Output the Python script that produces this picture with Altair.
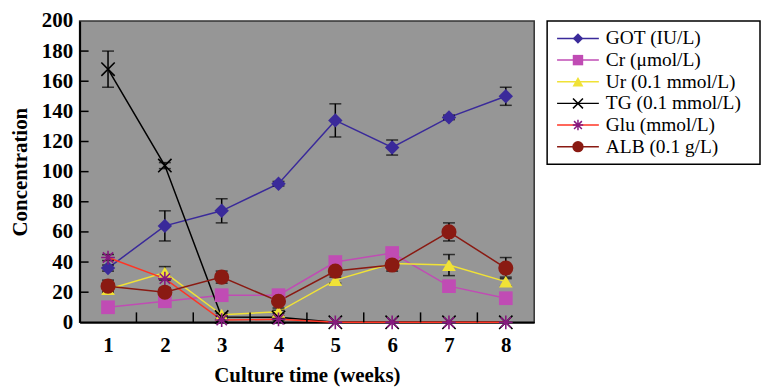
import altair as alt
import pandas as pd

weeks = [1, 2, 3, 4, 5, 6, 7, 8]
series_names = ["GOT (IU/L)", "Cr (μmol/L)", "Ur (0.1 mmol/L)",
                "TG (0.1 mmol/L)", "Glu (mmol/L)", "ALB (0.1 g/L)"]

GOT = [36, 64, 74, 92, 134, 116, 136, 150]
GOT_err = [2, 10, 8, 1.5, 11, 5, 1.5, 6]
Cr = [10, 14, 18, 18, 40, 46, 24, 16]
Cr_err = [1, 1, 1, 1, 1, 1, 1, 1]
Ur = [22, 33, 5, 7, 28, 39, 38, 27]
Ur_err = [2, 4, 1, 1, 2, 2, 7, 3]
TG = [168, 104, 3.5, 3.3, 0, 0, 0, 0]
TG_err = [12, 2, 1, 1, 0, 0, 0, 0]
Glu = [43, 29, 1.5, 2, 0, 0, 0, 0]
Glu_err = [2, 1, 0.5, 0.5, 0, 0, 0, 0]
ALB = [24, 20, 30, 14, 34, 38, 60, 36]
ALB_err = [4, 3, 4, 4.5, 2, 4, 6, 7]

y_labels = [0, 20, 40, 60, 80, 100, 120, 140, 160, 180, 200]
x_inner_ticks = [1.5, 2.5, 3.5, 4.5, 5.5, 6.5, 7.5]
y_ticks = [20, 40, 60, 80, 100, 120, 140, 160, 180]

values = [GOT, Cr, Ur, TG, Glu, ALB]
errors = [GOT_err, Cr_err, Ur_err, TG_err, Glu_err, ALB_err]

line_colors = ["#3a2a9a", "#c04cb4", "#f0e236", "#000000", "#ff3524", "#8a1a12"]
marker_colors = ["#3a2a9a", "#c04cb4", "#f0e236", "#000000", "#86197f", "#8a1a12"]
CROSS = "M-1,-1L1,1M-1,1L1,-1"
ASTER = "M-1,0L1,0M0,-1L0,1M-0.75,-0.75L0.75,0.75M-0.75,0.75L0.75,-0.75"
shapes = ["diamond", "square", "triangle-up", CROSS, ASTER, "circle"]
filled = [True, True, True, False, False, True]
sizes = [210, 190, 190, 180, 190, 230]
legend_sizes = [110, 110, 120, 100, 110, 130]

rows = []
for name, vals, errs in zip(series_names, values, errors):
    for w, v, e in zip(weeks, vals, errs):
        rows.append(dict(series=name, week=w, value=v, lo=max(v - e, 0), hi=v + e, err=e))
df = pd.DataFrame(rows)

W, H = 457, 303
FONT = "Liberation Serif"
yscale = alt.Scale(domain=[0, 200], nice=False)
xscale = alt.Scale(domain=[0.5, 8.5], nice=False, zero=False)

xaxis = alt.Axis(values=weeks, title="Culture time (weeks)", grid=False,
                 ticks=False, labelFontSize=21, labelFontWeight="bold",
                 titleFontSize=21, titleFontWeight="bold",
                 labelPadding=12, titlePadding=9, labelOverlap=False,
                 domainColor="#000000", domainWidth=2,
                 labelColor="#000000", titleColor="#000000",
                 labelFont=FONT, titleFont=FONT, format="d")
yaxis = alt.Axis(values=y_labels, labelOverlap=False,
                 title="Concentration", grid=False, ticks=False,
                 labelFontSize=21, labelFontWeight="bold",
                 titleFontSize=21, titleFontWeight="bold",
                 labelPadding=7, titlePadding=11,
                 domainColor="#000000", domainWidth=2,
                 labelColor="#000000", titleColor="#000000",
                 labelFont=FONT, titleFont=FONT)


def X(field="week"):
    return alt.X(f"{field}:Q", scale=xscale, axis=xaxis, title="Culture time (weeks)")


def Y(field="value"):
    return alt.Y(f"{field}:Q", scale=yscale, axis=yaxis, title="Concentration")


base = alt.Chart(df)
layers = []

for i, name in enumerate(series_names):
    layers.append(base.transform_filter(alt.datum.series == name).mark_line(
        color=line_colors[i], strokeWidth=1.5).encode(x=X(), y=Y()))

xt = pd.DataFrame({"week": x_inner_ticks})
yt = pd.DataFrame({"value": y_ticks})
layers.append(alt.Chart(xt).mark_rule(color="#000000", strokeWidth=1.5).encode(
    x=X(), y=alt.value(H), y2=alt.value(H - 10)))
layers.append(alt.Chart(yt).mark_rule(color="#000000", strokeWidth=1.5).encode(
    y=Y(), x=alt.value(0), x2=alt.value(9)))

eb = base.transform_filter(alt.datum.err > 0)
layers.append(eb.mark_rule(color="#000000", strokeWidth=1.5).encode(
    x=X(), y=Y("lo"), y2="hi:Q"))
layers.append(eb.mark_tick(color="#000000", orient="horizontal", size=12, thickness=1.5).encode(
    x=X(), y=Y("lo")))
layers.append(eb.mark_tick(color="#000000", orient="horizontal", size=12, thickness=1.5).encode(
    x=X(), y=Y("hi")))

for i, name in enumerate(series_names):
    if filled[i]:
        mk = dict(shape=shapes[i], size=sizes[i], filled=True, fill=marker_colors[i],
                  opacity=1, strokeWidth=0)
    else:
        mk = dict(shape=shapes[i], size=sizes[i], filled=False, stroke=marker_colors[i],
                  opacity=1, strokeWidth=1.6)
    layers.append(base.transform_filter(alt.datum.series == name).mark_point(**mk).encode(
        x=X(), y=Y()))

main = alt.layer(*layers).properties(
    width=W, height=H,
    view=alt.ViewBackground(fill="#969696", stroke="#333333", strokeWidth=1.5))

# legend panel
leg_df = pd.DataFrame({"series": series_names})
LH = 144
yl = alt.Y("series:N", sort=series_names,
           scale=alt.Scale(domain=series_names, padding=0.62), axis=None)
leg_layers = []
for i, name in enumerate(series_names):
    d = alt.Chart(leg_df).transform_filter(alt.datum.series == name)
    leg_layers.append(d.mark_rule(color=line_colors[i], strokeWidth=1.5).encode(
        y=yl, x=alt.value(10), x2=alt.value(52)))
    if filled[i]:
        mk = dict(shape=shapes[i], size=legend_sizes[i], filled=True, fill=marker_colors[i],
                  opacity=1, strokeWidth=0)
    else:
        mk = dict(shape=shapes[i], size=legend_sizes[i], filled=False, stroke=marker_colors[i],
                  opacity=1, strokeWidth=1.5)
    leg_layers.append(d.mark_point(**mk).encode(y=yl, x=alt.value(31)))
leg_layers.append(alt.Chart(leg_df).mark_text(
    align="left", baseline="middle", font=FONT, fontSize=19.5, color="#000000").encode(
    y=yl, x=alt.value(59), text="series:N"))

legend = alt.layer(*leg_layers).properties(
    width=214, height=LH,
    view=alt.ViewBackground(fill="#ffffff", stroke="#000000", strokeWidth=1.5))

chart = alt.hconcat(main, legend, spacing=11).properties(
    padding={"left": 0, "top": 0, "right": 0, "bottom": 0},
    background="#ffffff"
).configure(font=FONT)

chart.save("out.html", embed_options={"renderer": "svg", "actions": False})
